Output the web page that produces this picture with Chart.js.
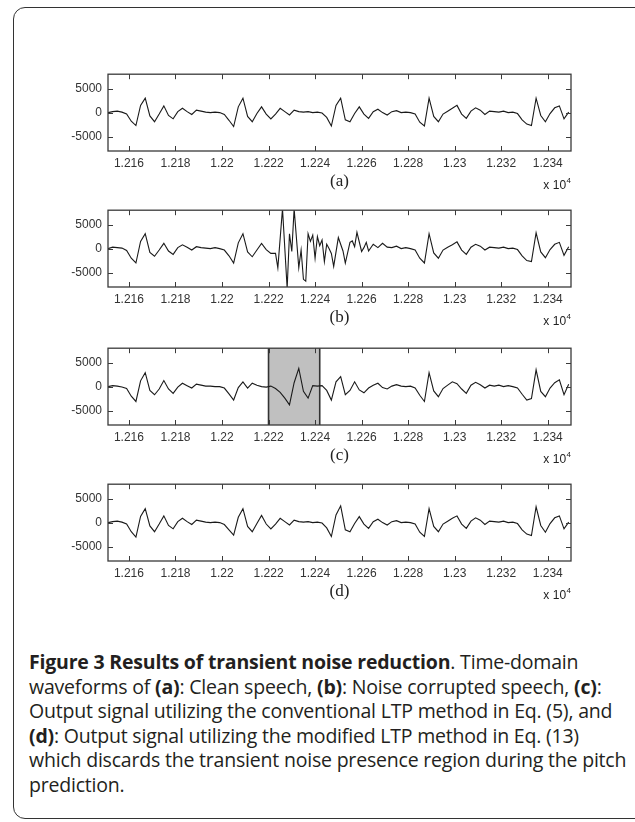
<!DOCTYPE html>
<html>
<head>
<meta charset="utf-8">
<script src="https://cdn.jsdelivr.net/npm/chart.js@4.4.1/dist/chart.umd.min.js"></script>
<style>
  body { margin: 0; background: #fff; width: 635px; height: 822px; overflow: hidden; position: relative; }
  #frame { position: absolute; left: 13px; top: 7px; width: 640px; height: 812px; box-sizing: border-box;
           border: 1.5px solid #333; border-radius: 12px; }
  .panel { position: absolute; left: 0; }
  #caption { position: absolute; left: 29px; top: 650px; font-family: "Open Sans", sans-serif; font-size: 19.5px;
             line-height: 24.5px; color: #231f20; white-space: nowrap; letter-spacing: -0.2px; }
  #caption b { font-weight: 700; }
</style>
</head>
<body>
<div id="frame"></div>
<canvas class="panel" id="chartA" width="635" height="140" style="top:61px"></canvas>
<canvas class="panel" id="chartB" width="635" height="140" style="top:197px"></canvas>
<canvas class="panel" id="chartC" width="635" height="140" style="top:335px"></canvas>
<canvas class="panel" id="chartD" width="635" height="140" style="top:471px"></canvas>
<div id="caption">
<b>Figure 3 Results of transient noise reduction</b>. Time-domain<br>
waveforms of <b>(a)</b>: Clean speech, <b>(b)</b>: Noise corrupted speech, <b>(c)</b>:<br>
Output signal utilizing the conventional LTP method in Eq. (5), and<br>
<b>(d)</b>: Output signal utilizing the modified LTP method in Eq. (13)<br>
which discards the transient noise presence region during the pitch<br>
prediction.
</div>
<script>
// sample index axis (x 10^4)
const xTicks = [12160, 12180, 12200, 12220, 12240, 12260, 12280, 12300, 12320, 12340];
const yTicks = [-5000, 0, 5000];
const xMin = 12151, xMax = 12350;
const yMin = -8000, yMax = 8000;
const shadeC = [12220, 12242];

// every 2nd sample
const grid = [
  12151, 12153, 12155, 12157, 12159, 12161, 12163, 12165, 12167, 12169,
  12171, 12173, 12175, 12177, 12179, 12181, 12183, 12185, 12187, 12189,
  12191, 12193, 12195, 12197, 12199, 12201, 12203, 12205, 12207, 12209,
  12211, 12213, 12215, 12217, 12219, 12221, 12223, 12225, 12227, 12229,
  12231, 12233, 12235, 12237, 12239, 12241, 12243, 12245, 12247, 12249,
  12251, 12253, 12255, 12257, 12259, 12261, 12263, 12265, 12267, 12269,
  12271, 12273, 12275, 12277, 12279, 12281, 12283, 12285, 12287, 12289,
  12291, 12293, 12295, 12297, 12299, 12301, 12303, 12305, 12307, 12309,
  12311, 12313, 12315, 12317, 12319, 12321, 12323, 12325, 12327, 12329,
  12331, 12333, 12335, 12337, 12339, 12341, 12343, 12345, 12347, 12349
];

// (a) clean speech
const cleanA = [
  0, 200, 300, 100, -300, -1800, -2700, 1500, 3000, -700,
  -1900, -300, 1400, -600, -1300, 200, 900, 200, -400, 500,
  300, 100, 0, 100, 0, -400, -1600, -2900, 1200, 3000,
  -800, -1900, -200, 1200, -300, -1300, -300, 900, 200, -500,
  500, 200, 100, 200, 0, 100, -100, -1000, -2800, 1500,
  3000, -1500, -1900, -200, 1200, -300, -1200, 200, 700, 0,
  -500, 200, 400, 0, 100, 0, -300, -2000, -2800, 3000,
  -800, -1900, -300, 300, 900, 1500, -300, -1200, 300, 1000,
  500, -400, 300, 200, 100, 300, 0, 100, -200, -1500,
  -2400, -2700, 3000, -600, -1900, -200, 1000, 1400, -1300, 100
];

// (b) noise corrupted speech, own sample positions
const timeB = [
  12151, 12153, 12155, 12157, 12159, 12161, 12163, 12165, 12167, 12169,
  12171, 12173, 12175, 12177, 12179, 12181, 12183, 12185, 12187, 12189,
  12191, 12193, 12195, 12197, 12199, 12201, 12203, 12205, 12207, 12209,
  12211, 12213, 12215, 12217, 12219, 12221, 12223, 12224, 12226, 12228,
  12229, 12230, 12231, 12233, 12234, 12235, 12236, 12237, 12238, 12239,
  12240, 12241, 12242, 12243, 12244, 12245, 12246, 12247, 12248, 12250,
  12252, 12253, 12255, 12256, 12257, 12258, 12260, 12261, 12262, 12263,
  12265, 12267, 12269, 12271, 12273, 12275, 12277, 12279, 12281, 12283,
  12285, 12287, 12289, 12291, 12293, 12295, 12297, 12299, 12301, 12303,
  12305, 12307, 12309, 12311, 12313, 12315, 12317, 12319, 12321, 12323,
  12325, 12327, 12329, 12331, 12333, 12335, 12337, 12339, 12341, 12343,
  12345, 12347, 12349
];
const noisyB = [
  0, 300, 200, 100, -400, -2000, -3000, 1500, 3100, -800,
  -1600, -300, 1100, -500, -1200, 200, 800, 300, -300, 400,
  200, 100, 0, 200, 0, -300, -1500, -3000, 1200, 3100,
  -700, -1700, -300, 1100, -200, -1000, -1000, -4000, 8300, -8300,
  3100, -600, 8300, -4000, -300, -6400, -6800, 3100, 1500, 2800,
  -2000, 2500, 600, 1800, -2700, 900, 0, -1000, -3700, 2300,
  -500, -3000, 1300, 1600, 400, 3400, -600, 200, 1300, -500,
  900, 200, 1100, 300, 200, 500, 0, 200, 0, -300,
  -2000, -3000, 3100, -900, -2000, -300, 300, 800, 1400, -300,
  -1200, 300, 900, 500, -300, 300, 200, 100, 300, 0,
  100, -200, -1500, -2500, -2700, 3300, -700, -1900, -200, 900,
  1300, -1400, 400
];

// (c) conventional LTP output
const outC = [
  0, 200, 100, -100, -400, -2000, -3100, 1200, 2900, -800,
  -1700, -500, 1250, -500, -1400, -100, 700, 200, -300, 500,
  300, 100, 100, 0, 0, -300, -1500, -2800, -200, 1000,
  -300, 700, 300, 0, -100, 100, -400, -1200, -2400, -3800,
  800, 3800, -1000, -2400, 200, 100, 200, -800, -2800, 1000,
  2100, -1700, -800, 1000, -700, -1300, -300, 300, 700, -200,
  -500, 100, 400, 100, 0, 100, -300, -1800, -3100, 2900,
  -900, -2100, -400, 300, 1000, 600, -500, -1400, 300, 900,
  400, -300, 300, 100, 300, 0, 200, 0, -300, -1600,
  -2800, -2500, 3500, -1000, -2100, -300, 800, 1400, -1700, 500
];

// (d) modified LTP output
const outD = [
  0, 200, 300, 100, -300, -1900, -3000, 1300, 2900, -700,
  -1900, -300, 1400, -600, -1300, 200, 900, 200, -400, 500,
  300, 100, 0, 100, 0, -400, -1500, -2600, 1100, 2900,
  -800, -1900, -200, 1500, -300, -1300, -300, 900, 200, -500,
  500, 200, 100, 200, 0, 100, -100, -1100, -2900, 1600,
  3500, -1500, -1900, -200, 1250, -300, -1200, 200, 700, 0,
  -500, 200, 400, 0, 100, 0, -300, -2000, -2900, 2900,
  -800, -1900, -300, 300, 900, 1400, -300, -1200, 300, 1000,
  500, -400, 300, 200, 100, 300, 0, 100, -200, -1500,
  -2400, -2700, 3300, -600, -2000, -200, 1000, 1400, -1300, 100
];

const boxPlugin = {
  id: 'box',
  beforeDatasetsDraw(chart) {
    const sh = chart.options.plugins.box.shade;
    if (!sh) return;
    const { ctx, chartArea: a, scales: { x } } = chart;
    const x0 = x.getPixelForValue(sh[0]), x1 = x.getPixelForValue(sh[1]);
    ctx.save();
    ctx.fillStyle = '#c0c0c0';
    ctx.fillRect(x0, a.top, x1 - x0, a.bottom - a.top);
    ctx.strokeStyle = '#333';
    ctx.lineWidth = 1.6;
    ctx.beginPath();
    ctx.moveTo(x0, a.top); ctx.lineTo(x0, a.bottom);
    ctx.moveTo(x1, a.top); ctx.lineTo(x1, a.bottom);
    ctx.stroke();
    ctx.restore();
  },
  afterDraw(chart) {
    const { ctx, chartArea: a, scales: { x, y } } = chart;
    ctx.save();
    ctx.strokeStyle = '#3a3a3a';
    ctx.lineWidth = 1.3;
    ctx.strokeRect(a.left, a.top, a.right - a.left, a.bottom - a.top);
    ctx.lineWidth = 1;
    ctx.beginPath();
    xTicks.forEach(v => {
      const px = Math.round(x.getPixelForValue(v)) + 0.5;
      ctx.moveTo(px, a.top); ctx.lineTo(px, a.top + 5);
      ctx.moveTo(px, a.bottom); ctx.lineTo(px, a.bottom - 5);
    });
    yTicks.forEach(v => {
      const py = Math.round(y.getPixelForValue(v)) + 0.5;
      ctx.moveTo(a.left, py); ctx.lineTo(a.left + 5, py);
      ctx.moveTo(a.right, py); ctx.lineTo(a.right - 5, py);
    });
    ctx.stroke();

    // panel letter and exponent
    ctx.fillStyle = '#222';
    ctx.textBaseline = 'middle';
    ctx.textAlign = 'center';
    ctx.font = '17px "Liberation Serif", serif';
    ctx.fillText(chart.options.plugins.box.letter, (a.left + a.right) / 2, a.bottom + 31);
    ctx.textAlign = 'right';
    ctx.font = '8px "Liberation Sans", Arial, sans-serif';
    const w4 = ctx.measureText('4').width;
    ctx.fillText('4', a.right, a.bottom + 30);
    ctx.font = '12px "Liberation Sans", Arial, sans-serif';
    ctx.fillText('x 10', a.right - w4 - 0.5, a.bottom + 35);
    ctx.restore();
  }
};

function makePanel(id, xs, ys, letter, shade) {
  return new Chart(document.getElementById(id), {
    type: 'line',
    data: {
      datasets: [{
        data: xs.map((v, i) => ({ x: v, y: ys[i] })),
        borderColor: '#1a1a1a',
        borderWidth: 1.1,
        pointRadius: 0,
        tension: 0
      }]
    },
    options: {
      responsive: false,
      animation: false,
      layout: { padding: { top: 10, right: 64, left: 0, bottom: 0 } },
      plugins: { legend: { display: false }, tooltip: { enabled: false }, box: { letter: letter, shade: shade } },
      scales: {
        x: {
          type: 'linear', min: xMin, max: xMax,
          afterBuildTicks: s => { s.ticks = xTicks.map(v => ({ value: v })); },
          afterFit: s => { s.height = 50; },
          grid: { display: false, drawTicks: false },
          border: { display: false },
          ticks: {
            autoSkip: false, maxRotation: 0, padding: 5, color: '#333',
            font: { family: '"Liberation Sans", Arial, sans-serif', size: 12 },
            callback: v => String(parseFloat((v / 1e4).toFixed(4)))
          }
        },
        y: {
          min: yMin, max: yMax,
          afterBuildTicks: s => { s.ticks = yTicks.map(v => ({ value: v })); },
          afterFit: s => { s.width = 108; },
          grid: { display: false, drawTicks: false },
          border: { display: false },
          ticks: {
            padding: 6, color: '#333',
            font: { family: '"Liberation Sans", Arial, sans-serif', size: 12 },
            callback: v => String(v)
          }
        }
      }
    },
    plugins: [boxPlugin]
  });
}

makePanel('chartA', grid, cleanA, '(a)');
makePanel('chartB', timeB, noisyB, '(b)');
makePanel('chartC', grid, outC, '(c)', shadeC);
makePanel('chartD', grid, outD, '(d)');
</script>
</body>
</html>
